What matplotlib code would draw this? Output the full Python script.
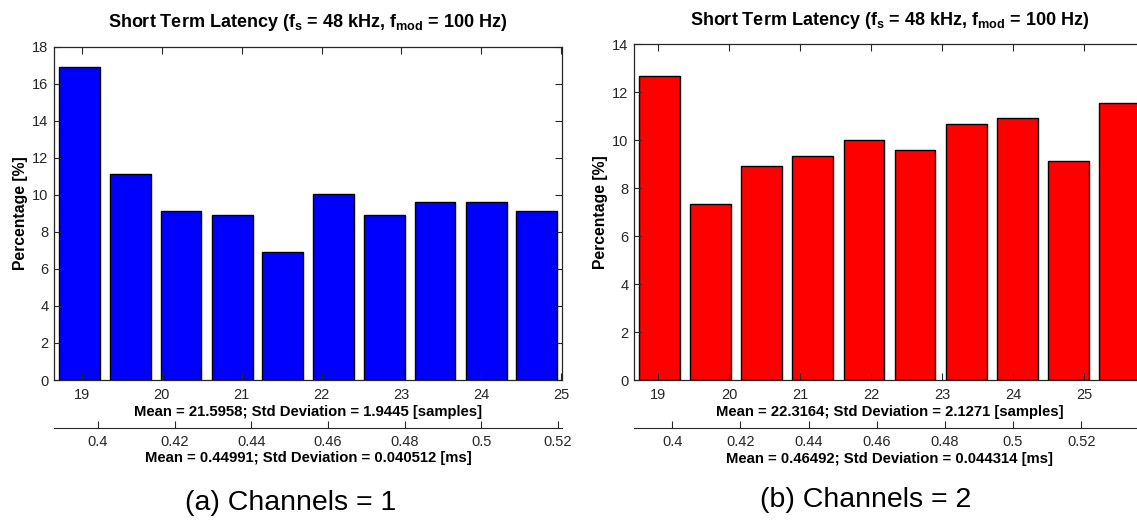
import numpy as np
import matplotlib
matplotlib.use("Agg")
import matplotlib.pyplot as plt

plt.rcParams.update({
    "font.family": ["Liberation Sans", "DejaVu Sans"],
    "mathtext.fontset": "custom",
    "mathtext.rm": "Liberation Sans",
    "mathtext.bf": "Liberation Sans:bold",
    "font.size": 10,
})

FS_KHZ = 48.0  # samples -> ms

# histogram bin centres [samples] and percentages
ch1_centers = [18.97, 19.61, 20.24, 20.88, 21.51, 22.15, 22.79, 23.42, 24.06, 24.69]
ch1_pct = [16.9, 11.15, 9.12, 8.92, 6.92, 10.03, 8.92, 9.6, 9.6, 9.12]
ch1_xlim = (18.65, 25.01)
ch1_stats = ("Mean = 21.5958; Std Deviation = 1.9445 [samples]",
             "Mean = 0.44991; Std Deviation = 0.040512 [ms]")

ch2_centers = [19.02, 19.74, 20.46, 21.18, 21.90, 22.62, 23.34, 24.06, 24.78, 25.50]
ch2_pct = [12.68, 7.34, 8.92, 9.34, 9.99, 9.58, 10.68, 10.91, 9.15, 11.56]
ch2_xlim = (18.66, 25.86)
ch2_stats = ("Mean = 22.3164; Std Deviation = 2.1271 [samples]",
             "Mean = 0.46492; Std Deviation = 0.044314 [ms]")

sample_ticks = [19, 20, 21, 22, 23, 24, 25]
ms_ticks = [0.4, 0.42, 0.44, 0.46, 0.48, 0.5, 0.52]
ms_ticklabels = ["0.4", "0.42", "0.44", "0.46", "0.48", "0.5", "0.52"]

TITLE = r"Short Term Latency (f$_\mathbf{s}$ = 48 kHz, f$_\mathbf{mod}$ = 100 Hz)"
INK = "#262626"
W, H = 1137, 523

fig = plt.figure(figsize=(W / 100, H / 100), dpi=100)


def panel(rect, centers, pct, xlim, ymax, color, stats):
    ax = fig.add_axes(rect)
    step = centers[1] - centers[0]
    ax.bar(centers, pct, width=0.8 * step, color=color, edgecolor="black", linewidth=1.0)
    ax.set_xlim(*xlim)
    ax.set_ylim(0, ymax)
    ax.set_yticks(range(0, ymax + 1, 2))
    ax.set_xticks(sample_ticks)
    ax.tick_params(direction="in", length=5, width=0.8, colors=INK, labelsize=10.5,
                   top=True, right=True, labelcolor=INK)
    ax.tick_params(axis="x", pad=6)
    ax.tick_params(axis="y", pad=4)
    for s in ax.spines.values():
        s.set_color(INK); s.set_linewidth(0.9)
    ax.set_title(TITLE, fontsize=13, fontweight="bold", pad=14)
    ax.set_ylabel("Percentage [%]", fontsize=11.3, fontweight="bold", labelpad=3)
    ax.set_xlabel(stats[0], fontsize=10.7, fontweight="bold", labelpad=2)

    # second x axis in milliseconds
    sec = ax.secondary_xaxis(-0.143, functions=(lambda x: x / FS_KHZ, lambda x: x * FS_KHZ))
    sec.set_xticks(ms_ticks, ms_ticklabels)
    sec.tick_params(direction="in", length=5, width=0.8, colors=INK, labelsize=10.5, pad=5)
    sec.spines["bottom"].set_color(INK)
    sec.set_xlabel(stats[1], fontsize=10.7, fontweight="bold", labelpad=2)
    return ax


panel([54 / W, 143 / H, 508 / W, 333.3 / H], ch1_centers, ch1_pct, ch1_xlim, 18, "#0000ff", ch1_stats)
panel([634 / W, 143 / H, 511 / W, 335.7 / H], ch2_centers, ch2_pct, ch2_xlim, 14, "#ff0000", ch2_stats)

fig.text(291 / W, 1 - 503 / H, "(a) Channels = 1", ha="center", va="center", fontsize=20.5)
fig.text(866 / W, 1 - 500 / H, "(b) Channels = 2", ha="center", va="center", fontsize=20.5)

fig.savefig("out.png", dpi=100)
